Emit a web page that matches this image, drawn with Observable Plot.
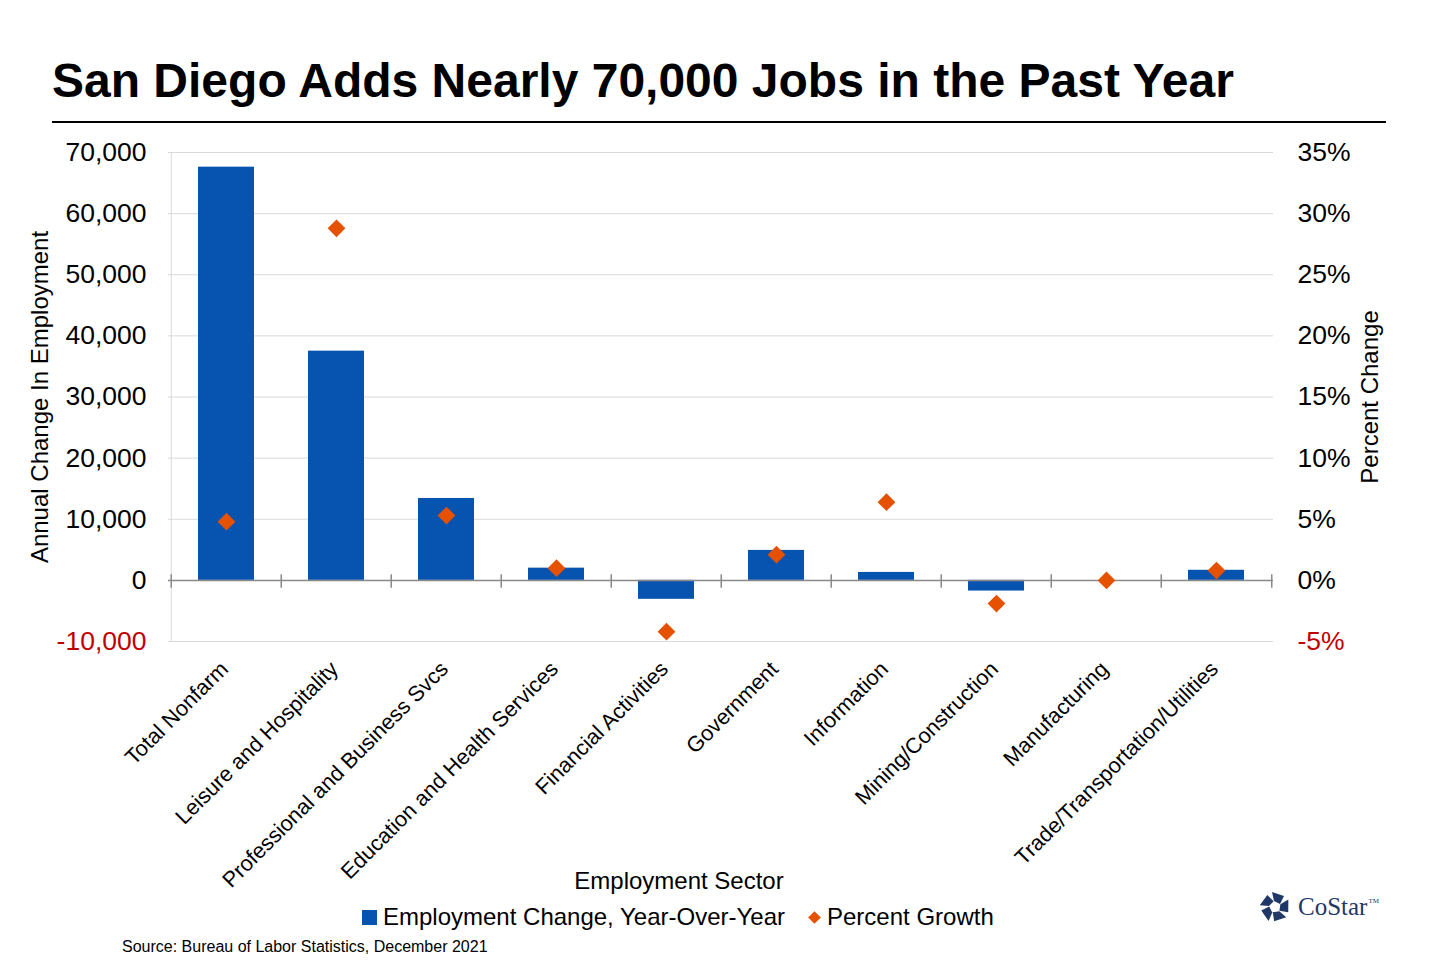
<!DOCTYPE html>
<html><head><meta charset="utf-8">
<script src="https://cdn.jsdelivr.net/npm/d3@7"></script>
<script src="https://cdn.jsdelivr.net/npm/@observablehq/plot@0.6"></script>
<style>
body{margin:0;background:#fff;font-family:"Liberation Sans",Arial,sans-serif;color:#000;}
#wrap{position:relative;width:1440px;height:960px;overflow:hidden;background:#fff;}
#title{position:absolute;left:52px;top:57px;font-size:48px;line-height:48px;font-weight:bold;white-space:nowrap;}
#rule{position:absolute;left:52px;top:121px;width:1334px;height:2px;background:#000;}
#chart{position:absolute;left:0;top:130px;}
#legend{position:absolute;left:362px;top:903px;font-size:24px;line-height:28px;white-space:nowrap;display:flex;align-items:center;}
#legend .sq{display:inline-block;width:15px;height:15px;background:#0753B0;margin-right:6px;}
#legend .dm{display:inline-block;width:9px;height:9px;background:#E65100;transform:rotate(45deg);margin:0 8px 0 25px;}
#source{position:absolute;left:122px;top:938px;font-size:16px;line-height:18px;white-space:nowrap;}
#logo{position:absolute;left:1258px;top:891px;display:flex;align-items:center;}
#logo span{font-family:"Liberation Serif","Times New Roman",serif;font-size:25px;color:#1f3868;margin-left:6px;}
#logo sup{font-size:7px;vertical-align:top;position:relative;top:4px;margin-left:1px;}
</style></head>
<body><div id="wrap">
<div id="title">San Diego Adds Nearly 70,000 Jobs in the Past Year</div>
<div id="rule"></div>
<div id="chart"></div>
<div id="legend"><span class="sq"></span>Employment Change, Year-Over-Year<span class="dm"></span>Percent Growth</div>
<div id="source">Source: Bureau of Labor Statistics, December 2021</div>
<div id="logo"><svg width="34" height="32" viewBox="-17 -16 34 32">
<g fill="#1f3868">
<polygon points="-3,-15 9,-11 5,-3 -1,-6" transform="rotate(0)"/>
<polygon points="-3,-15 9,-11 5,-3 -1,-6" transform="rotate(72)"/>
<polygon points="-3,-15 9,-11 5,-3 -1,-6" transform="rotate(144)"/>
<polygon points="-3,-15 9,-11 5,-3 -1,-6" transform="rotate(216)"/>
<polygon points="-3,-15 9,-11 5,-3 -1,-6" transform="rotate(288)"/>
</g></svg><span>CoStar<sup>TM</sup></span></div>
</div>
<script>
const sectors = ["Total Nonfarm","Leisure and Hospitality","Professional and Business Svcs","Education and Health Services","Financial Activities","Government","Information","Mining/Construction","Manufacturing","Trade/Transportation/Utilities"];
const jobChange = [67600, 37500, 13400, 2000, -3100, 4900, 1300, -1750, 0, 1650];
const pctGrowth = [4.8, 28.8, 5.3, 1.0, -4.2, 2.1, 6.4, -1.9, 0.0, 0.8];
const leftTicks = [-10000, 0, 10000, 20000, 30000, 40000, 50000, 60000, 70000];
const rightTicks = [-5, 0, 5, 10, 15, 20, 25, 30, 35];

const data = sectors.map((s, i) => ({sector: s, jobs: jobChange[i], pct: pctGrowth[i]}));
const k = leftTicks[leftTicks.length - 1] / rightTicks[rightTicks.length - 1]; // right-axis to left-axis factor

const W = 1440, H = 765, mL = 168, mR = 167, mT = 22, mB = 254;
const step = (W - mL - mR) / sectors.length;
const red = "#C00000";
const fmtL = d => (d < 0 ? "-" : "") + d3.format(",")(Math.abs(d));

const chart = Plot.plot({
  width: W, height: H,
  marginLeft: mL, marginRight: mR, marginTop: mT, marginBottom: mB,
  style: {fontFamily: "Liberation Sans, Arial, sans-serif", background: "transparent", color: "#000"},
  x: {type: "band", domain: sectors, padding: 0},
  y: {domain: [leftTicks[0], leftTicks[leftTicks.length - 1]]},
  marks: [
    Plot.gridY(leftTicks, {stroke: "#d9d9d9", strokeOpacity: 1, strokeWidth: 1}),
    Plot.ruleX([sectors[0]], {dx: -step / 2, stroke: "#d9d9d9", strokeWidth: 1}),
    Plot.barY(data, {x: "sector", y: "jobs", fill: "#0753B0", insetLeft: 27, insetRight: 27}),
    Plot.ruleY([0], {stroke: "#8a8a8a", strokeWidth: 1.5}),
    Plot.ruleX(sectors, {x: d => d, dx: -step / 2, y1: 900, y2: -1300, stroke: "#8a8a8a", strokeWidth: 1.5}),
    Plot.ruleX([sectors[sectors.length - 1]], {dx: step / 2, y1: 900, y2: -1300, stroke: "#8a8a8a", strokeWidth: 1.5}),
    Plot.dot(data, {x: "sector", y: d => d.pct * k, symbol: "diamond2", r: 8, fill: "#E65100", stroke: "none"}),
    Plot.axisY(leftTicks, {anchor: "left", tickSize: 0, tickPadding: 22, fontSize: 26.5, tickFormat: fmtL, label: null}),
    Plot.axisY(rightTicks.map(p => p * k), {anchor: "right", tickSize: 0, tickPadding: 24, fontSize: 26.5, tickFormat: d => (d < 0 ? "-" : "") + Math.abs(d / k) + "%", label: null}),
    Plot.axisX({anchor: "bottom", tickSize: 0, tickPadding: 24, tickRotate: -45, fontSize: 21.7, dx: -2, label: null}),
    Plot.text(["Annual Change In Employment"], {frameAnchor: "left", textAnchor: "middle", lineAnchor: "middle", rotate: -90, dx: -128, fontSize: 24, fill: "#000"}),
    Plot.text(["Percent Change"], {frameAnchor: "right", textAnchor: "middle", lineAnchor: "middle", rotate: -90, dx: 97, fontSize: 24, fill: "#000"}),
    Plot.text(["Employment Sector"], {frameAnchor: "bottom", textAnchor: "middle", lineAnchor: "middle", dx: -42, dy: 240, fontSize: 24, fill: "#000"})
  ]
});
d3.select(chart).selectAll("text").filter(function () { return this.textContent.trim().startsWith("-"); }).attr("fill", red);
document.getElementById("chart").appendChild(chart);
</script>
</body></html>
